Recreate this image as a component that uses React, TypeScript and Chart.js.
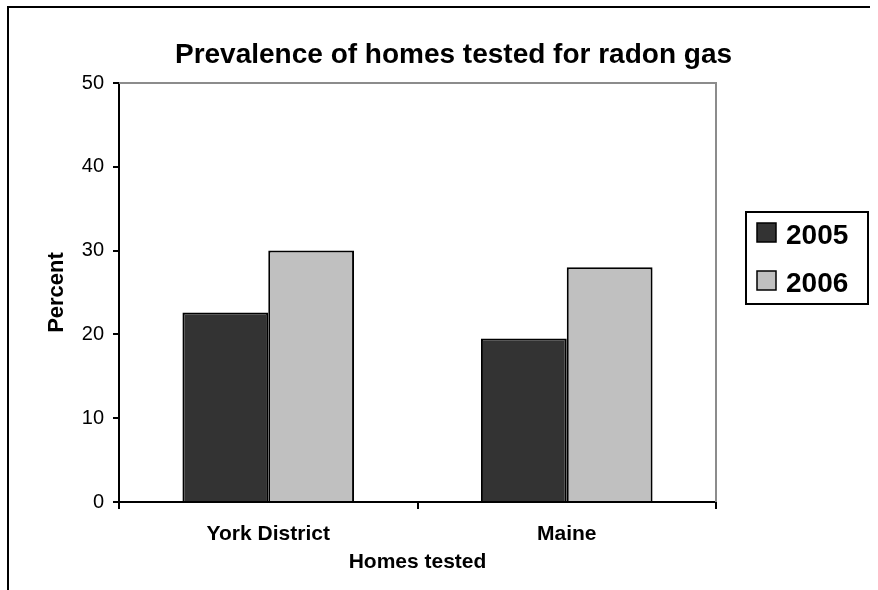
import React, { useEffect, useRef } from "react";
import { Chart, registerables } from "chart.js";

Chart.register(...registerables);

const chartTitle = "Prevalence of homes tested for radon gas";
const categories = ["York District", "Maine"];
const seriesLabels = ["2005", "2006"];
const values2005 = [22.6, 19.5];
const values2006 = [30, 28];
const seriesColors = ["#333333", "#C0C0C0"];
const yTitle = "Percent";
const xTitle = "Homes tested";

const FONT = "'Liberation Sans', Arial, Helvetica, sans-serif";

const framePlugin = {
  id: "frameAndLegend",
  beforeDraw(chart: any) {
    const ctx = chart.ctx;
    ctx.save();
    ctx.fillStyle = "#ffffff";
    ctx.fillRect(0, 0, chart.width, chart.height);
    ctx.strokeStyle = "#000000";
    ctx.lineWidth = 2;
    ctx.beginPath();
    ctx.moveTo(8, 590);
    ctx.lineTo(8, 7);
    ctx.lineTo(870, 7);
    ctx.stroke();
    ctx.restore();
  },
  afterDatasetsDraw(chart: any) {
    const ctx = chart.ctx;
    const a = chart.chartArea;
    ctx.save();
    ctx.strokeStyle = "#8c8c8c";
    ctx.lineWidth = 2;
    ctx.beginPath();
    ctx.moveTo(a.left, a.top);
    ctx.lineTo(a.right, a.top);
    ctx.lineTo(a.right, a.bottom);
    ctx.stroke();
    ctx.restore();
  },
  afterDraw(chart: any) {
    const ctx = chart.ctx;
    ctx.save();
    // title
    ctx.font = `bold 28px ${FONT}`;
    ctx.fillStyle = "#000";
    ctx.textAlign = "center";
    ctx.textBaseline = "alphabetic";
    ctx.fillText(chartTitle, 453.5, 63);
    // legend box
    const bx = 746, by = 212, bw = 122, bh = 92;
    ctx.strokeStyle = "#000";
    ctx.lineWidth = 2;
    ctx.strokeRect(bx, by, bw, bh);
    ctx.font = `bold 28px ${FONT}`;
    ctx.textBaseline = "middle";
    ctx.textAlign = "left";
    chart.data.datasets.forEach((ds: any, i: number) => {
      const cy = 233 + i * 48;
      ctx.fillStyle = ds.backgroundColor;
      ctx.fillRect(757, cy - 10, 19, 19);
      ctx.lineWidth = 1.5;
      ctx.strokeStyle = "#000";
      ctx.strokeRect(757, cy - 10, 19, 19);
      ctx.fillStyle = "#000";
      ctx.fillText(ds.label, 786, cy + 3);
    });
    ctx.restore();
  },
};

export default function App() {
  const ref = useRef<HTMLCanvasElement>(null);
  useEffect(() => {
    if (!ref.current) return;
    const chart = new Chart(ref.current, {
      type: "bar",
      data: {
        labels: categories,
        datasets: [
          {
            label: seriesLabels[0],
            data: values2005,
            backgroundColor: seriesColors[0],
            borderColor: "#000000",
            borderWidth: 2,
          },
          {
            label: seriesLabels[1],
            data: values2006,
            backgroundColor: seriesColors[1],
            borderColor: "#000000",
            borderWidth: 2,
          },
        ],
      },
      options: {
        responsive: false,
        animation: false,
        layout: { padding: { left: 0, right: 162, top: 83, bottom: 0 } },
        datasets: { bar: { categoryPercentage: 0.575, barPercentage: 1 } },
        plugins: {
          legend: { display: false },
          tooltip: { enabled: false },
          title: { display: false },
        },
        scales: {
          x: {
            afterFit: (s: any) => {
              s.height = 88;
            },
            grid: {
              offset: true,
              drawOnChartArea: false,
              drawTicks: true,
              tickLength: 7,
              color: "#000",
              lineWidth: 2,
            },
            border: { display: true, color: "#000", width: 2 },
            ticks: {
              color: "#000",
              padding: 13,
              font: { family: FONT, size: 21, weight: "bold" },
            },
            title: {
              display: true,
              text: xTitle,
              color: "#000",
              font: { family: FONT, size: 21, weight: "bold", lineHeight: 1.2 },
              padding: { top: 0, bottom: 15 },
            },
          },
          y: {
            min: 0,
            max: 50,
            afterFit: (s: any) => {
              s.width = 119;
            },
            grid: {
              drawOnChartArea: false,
              drawTicks: true,
              tickLength: 6,
              color: "#000",
              lineWidth: 2,
            },
            border: { display: true, color: "#000", width: 2 },
            ticks: {
              stepSize: 10,
              color: "#000",
              padding: 9,
              font: { family: FONT, size: 20 },
            },
            title: {
              display: true,
              text: yTitle,
              color: "#000",
              font: { family: FONT, size: 22, weight: "bold", lineHeight: 1.2 },
              padding: { top: 44, bottom: 0 },
            },
          },
        },
      },
      plugins: [framePlugin],
    });
    return () => chart.destroy();
  }, []);
  return (
    <div style={{ position: "absolute", left: 0, top: 0, width: 878, height: 590 }}>
      <canvas ref={ref} width={878} height={590} style={{ display: "block" }} />
    </div>
  );
}
